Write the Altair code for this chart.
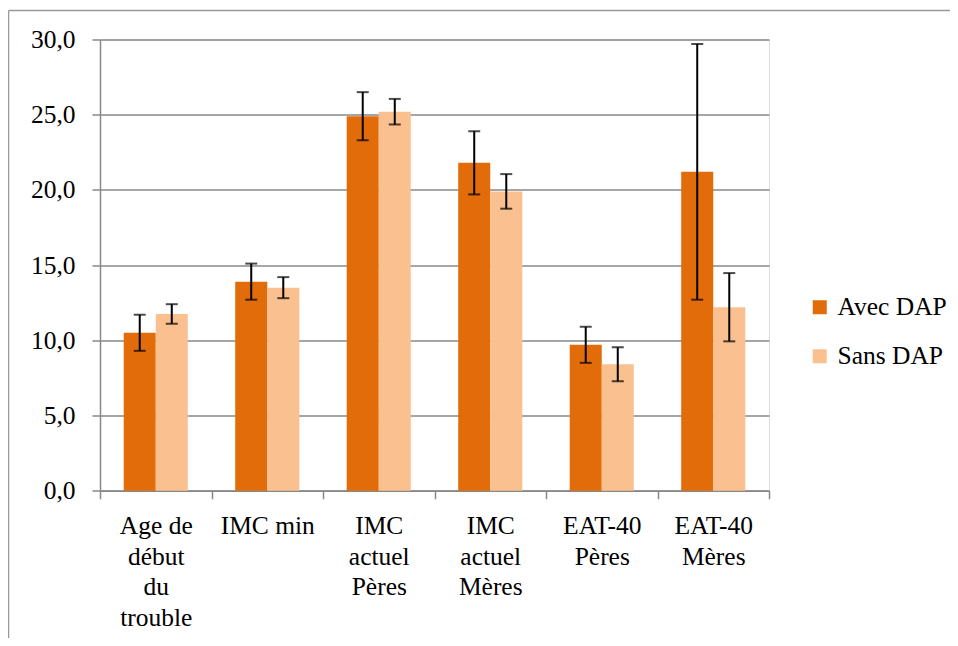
import altair as alt
import pandas as pd

categories = ["Age de\ndébut\ndu\ntrouble", "IMC min", "IMC\nactuel\nPères",
              "IMC\nactuel\nMères", "EAT-40\nPères", "EAT-40\nMères"]
series = ["Avec DAP", "Sans DAP"]
avec_values = [10.5, 13.9, 24.9, 21.8, 9.7, 21.2]
avec_err = [1.2, 1.2, 1.6, 2.1, 1.2, 8.5]
sans_values = [11.75, 13.5, 25.2, 19.9, 8.4, 12.2]
sans_err = [0.65, 0.7, 0.85, 1.15, 1.13, 2.27]
colors = ["#E36C0A", "#FAC08F"]
y_ticks = [0, 5, 10, 15, 20, 25, 30]

rows = []
for c, v, e in zip(categories, avec_values, avec_err):
    rows.append({"cat": c, "serie": series[0], "val": v, "lo": v - e, "hi": v + e})
for c, v, e in zip(categories, sans_values, sans_err):
    rows.append({"cat": c, "serie": series[1], "val": v, "lo": v - e, "hi": v + e})
df = pd.DataFrame(rows)

FONT = "Liberation Serif, serif"
FS = 25.5

x_enc = alt.X("cat:N", sort=categories, title=None,
              scale=alt.Scale(paddingInner=0, paddingOuter=0),
              axis=alt.Axis(labelExpr="split(datum.label, '\\n')", labelAngle=0,
                            labelFont=FONT, labelFontSize=FS, labelColor="#000",
                            labelLineHeight=30.5, labelPadding=15, labelBaseline="top",
                            domainColor="#888", domainWidth=1.5, tickColor="#888",
                            tickWidth=1.5, tickSize=8, tickBand="extent", grid=False))
xo_enc = alt.XOffset("serie:N", sort=series,
                     scale=alt.Scale(paddingInner=0, paddingOuter=0.74))
y_scale = alt.Scale(domain=[0, 30], nice=False)

bars = alt.Chart(df).mark_bar().encode(
    x=x_enc,
    xOffset=xo_enc,
    y=alt.Y("val:Q", scale=y_scale, title=None,
            axis=alt.Axis(values=y_ticks,
                          labelExpr="replace(format(datum.value, '.1f'), '.', ',')",
                          labelFont=FONT, labelFontSize=FS, labelColor="#000",
                          labelPadding=17, domainColor="#888", domainWidth=1.5,
                          tickColor="#888", tickWidth=1.5, tickSize=8,
                          gridColor="#888", gridWidth=1.5)),
    color=alt.Color("serie:N", sort=series,
                    scale=alt.Scale(domain=series, range=colors),
                    legend=alt.Legend(title=None, orient="none", legendX=707, legendY=255,
                                      symbolType="square", symbolSize=196,
                                      symbolStrokeWidth=0, labelFont=FONT,
                                      labelFontSize=FS, labelColor="#000",
                                      labelOffset=5, rowPadding=22, padding=0)),
)

err_rule = alt.Chart(df).mark_rule(color="#000", strokeWidth=2).encode(
    x=alt.X("cat:N", sort=categories), xOffset=xo_enc,
    y=alt.Y("lo:Q", scale=y_scale), y2="hi:Q")
cap_lo = alt.Chart(df).mark_tick(color="#000", thickness=2, size=12).encode(
    x=alt.X("cat:N", sort=categories), xOffset=xo_enc,
    y=alt.Y("lo:Q", scale=y_scale))
cap_hi = alt.Chart(df).mark_tick(color="#000", thickness=2, size=12).encode(
    x=alt.X("cat:N", sort=categories), xOffset=xo_enc,
    y=alt.Y("hi:Q", scale=y_scale))

one = pd.DataFrame({"a": [0]})
border_top = alt.Chart(one).mark_rule(color="#999", strokeWidth=1.5).encode(
    x=alt.value(-91.5), x2=alt.value(860), y=alt.value(-29))
border_left = alt.Chart(one).mark_rule(color="#999", strokeWidth=1.5).encode(
    x=alt.value(-91.5), y=alt.value(-29), y2=alt.value(600))

chart = alt.layer(bars, err_rule, cap_lo, cap_hi, border_top, border_left).properties(
    width=669, height=451.2,
    autosize=alt.AutoSizeParams(type="none"),
    padding={"left": 92, "top": 31.5, "right": 181, "bottom": 147},
).configure_view(stroke=None).configure(background="#ffffff", font=FONT).configure_legend(
    labelFont=FONT, labelFontSize=FS)

chart.save("out.html", embed_options={"renderer": "svg", "actions": False})
